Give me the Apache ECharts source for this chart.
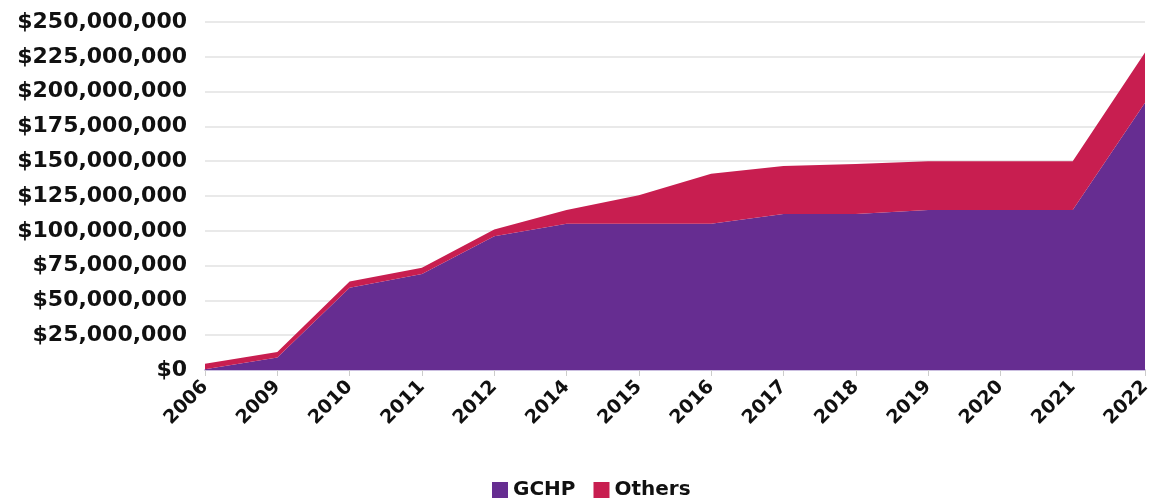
<!DOCTYPE html>
<html>
<head>
<meta charset="utf-8">
<script src="https://cdn.jsdelivr.net/npm/echarts@6/dist/echarts.min.js"></script>
<style>
    html, body { margin: 0; padding: 0; background: #fff; }
    #chart { width: 1154px; height: 501px; }
</style>
</head>
<body>
<div id="chart"></div>
<script>
// years on the x axis
const years = ['2006', '2009', '2010', '2011', '2012', '2014', '2015', '2016', '2017', '2018', '2019', '2020', '2021', '2022'];
// values in dollars
const gchp = [500000, 9000000, 59000000, 69000000, 96000000, 105000000, 105000000, 105000000, 112000000, 112000000, 115000000, 115000000, 115000000, 192000000];
const others = [4000000, 4000000, 4500000, 4500000, 5000000, 10000000, 20500000, 36000000, 34500000, 36000000, 35000000, 35000000, 35000000, 36000000];

const fontFam = '"DejaVu Sans", sans-serif';

function money(v) {
    return '$' + v.toLocaleString('en-US');
}

const chart = echarts.init(document.getElementById('chart'));
chart.setOption({
    animation: false,
    grid: { left: 205, right: 9, top: 22, bottom: 131 },
    legend: {
        bottom: 1,
        left: 492,
        padding: 0,
        itemWidth: 16,
        itemHeight: 16,
        itemGap: 18,
        icon: 'rect',
        textStyle: { fontFamily: fontFam, fontSize: 20, fontWeight: 'bold', color: '#111' },
        data: ['GCHP', 'Others']
    },
    xAxis: {
        type: 'category',
        boundaryGap: false,
        data: years,
        axisLine: { lineStyle: { color: '#cbbfe0', width: 2 } },
        axisTick: { show: true, length: 6, lineStyle: { color: '#ccc' } },
        axisLabel: {
            rotate: 45,
            margin: 14,
            fontFamily: fontFam,
            fontSize: 19,
            fontWeight: 'bold',
            color: '#111'
        }
    },
    yAxis: {
        type: 'value',
        min: 0,
        max: 250000000,
        interval: 25000000,
        axisLine: { show: false },
        axisTick: { show: false },
        splitLine: { lineStyle: { color: '#e2e2e2', width: 1.5 } },
        axisLabel: {
            margin: 18,
            formatter: money,
            fontFamily: fontFam,
            fontSize: 22,
            fontWeight: 'bold',
            color: '#111'
        }
    },
    series: [
        {
            name: 'GCHP',
            type: 'line',
            stack: 'total',
            data: gchp,
            symbol: 'none',
            lineStyle: { width: 0 },
            itemStyle: { color: '#662d91' },
            areaStyle: { color: '#662d91', opacity: 1 }
        },
        {
            name: 'Others',
            type: 'line',
            stack: 'total',
            data: others,
            symbol: 'none',
            lineStyle: { width: 0 },
            itemStyle: { color: '#c81e50' },
            areaStyle: { color: '#c81e50', opacity: 1 }
        }
    ]
});
</script>
</body>
</html>
